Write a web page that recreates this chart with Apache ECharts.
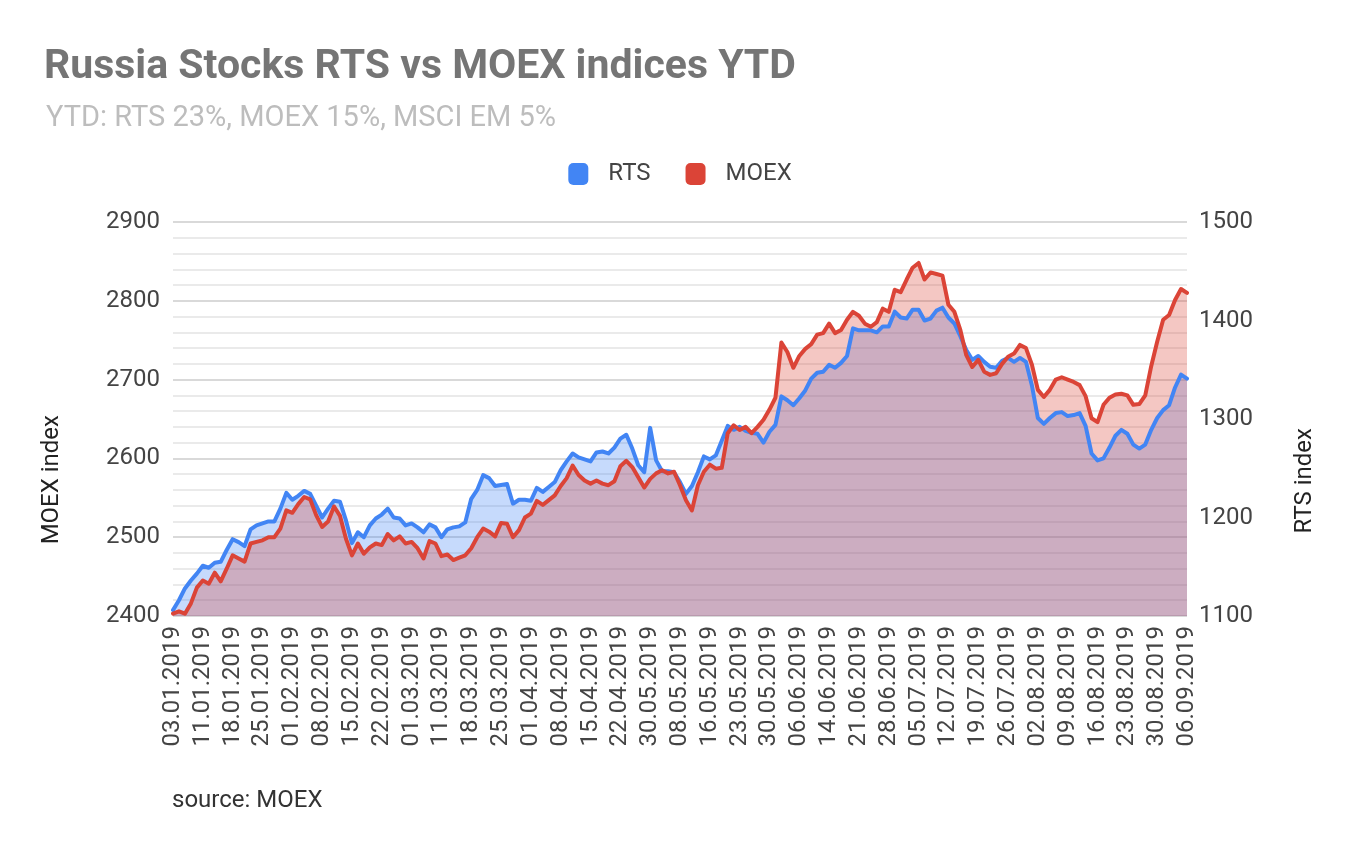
<!DOCTYPE html>
<html>
<head>
<meta charset="utf-8">
<script src="https://cdn.jsdelivr.net/npm/echarts@6/dist/echarts.min.js"></script>
<style>
html,body{margin:0;padding:0;background:#fff;}
#chart{width:1360px;height:859px;}
</style>
</head>
<body>
<div id="chart"></div>
<script>
const titleText = 'Russia Stocks RTS vs MOEX indices YTD';
const subtitleText = 'YTD: RTS 23%, MOEX 15%, MSCI EM 5%';
const sourceText = 'source: MOEX';
const leftAxisName = 'MOEX index';
const rightAxisName = 'RTS index';

const categories = [
'03.01.2019','04.01.2019','08.01.2019','09.01.2019','10.01.2019',
'11.01.2019','14.01.2019','15.01.2019','16.01.2019','17.01.2019',
'18.01.2019','21.01.2019','22.01.2019','23.01.2019','24.01.2019',
'25.01.2019','28.01.2019','29.01.2019','30.01.2019','31.01.2019',
'01.02.2019','04.02.2019','05.02.2019','06.02.2019','07.02.2019',
'08.02.2019','11.02.2019','12.02.2019','13.02.2019','14.02.2019',
'15.02.2019','18.02.2019','19.02.2019','20.02.2019','21.02.2019',
'22.02.2019','25.02.2019','26.02.2019','27.02.2019','28.02.2019',
'01.03.2019','04.03.2019','05.03.2019','06.03.2019','07.03.2019',
'11.03.2019','12.03.2019','13.03.2019','14.03.2019','15.03.2019',
'18.03.2019','19.03.2019','20.03.2019','21.03.2019','22.03.2019',
'25.03.2019','26.03.2019','27.03.2019','28.03.2019','29.03.2019',
'01.04.2019','02.04.2019','03.04.2019','04.04.2019','05.04.2019',
'08.04.2019','09.04.2019','10.04.2019','11.04.2019','12.04.2019',
'15.04.2019','16.04.2019','17.04.2019','18.04.2019','19.04.2019',
'22.04.2019','23.04.2019','24.04.2019','25.04.2019','26.04.2019',
'30.05.2019','02.05.2019','03.05.2019','06.05.2019','07.05.2019',
'08.05.2019','10.05.2019','13.05.2019','14.05.2019','15.05.2019',
'16.05.2019','17.05.2019','20.05.2019','21.05.2019','22.05.2019',
'23.05.2019','24.05.2019','27.05.2019','28.05.2019','29.05.2019',
'30.05.2019','31.05.2019','03.06.2019','04.06.2019','05.06.2019',
'06.06.2019','07.06.2019','10.06.2019','11.06.2019','13.06.2019',
'14.06.2019','17.06.2019','18.06.2019','19.06.2019','20.06.2019',
'21.06.2019','24.06.2019','25.06.2019','26.06.2019','27.06.2019',
'28.06.2019','01.07.2019','02.07.2019','03.07.2019','04.07.2019',
'05.07.2019','08.07.2019','09.07.2019','10.07.2019','11.07.2019',
'12.07.2019','15.07.2019','16.07.2019','17.07.2019','18.07.2019',
'19.07.2019','22.07.2019','23.07.2019','24.07.2019','25.07.2019',
'26.07.2019','29.07.2019','30.07.2019','31.07.2019','01.08.2019',
'02.08.2019','05.08.2019','06.08.2019','07.08.2019','08.08.2019',
'09.08.2019','12.08.2019','13.08.2019','14.08.2019','15.08.2019',
'16.08.2019','19.08.2019','20.08.2019','21.08.2019','22.08.2019',
'23.08.2019','26.08.2019','27.08.2019','28.08.2019','29.08.2019',
'30.08.2019','02.09.2019','03.09.2019','04.09.2019','05.09.2019',
'06.09.2019'
];

// RTS index (right axis)
const rtsValues = [
1106,1116,1128,1136,1143,1151,1149,1154,1155,1167,
1178,1175,1171,1188,1192,1194,1196,1196,1209,1225,
1218,1222,1227,1224,1212,1200,1209,1217,1216,1197,
1174,1185,1180,1192,1199,1203,1209,1200,1199,1192,
1194,1190,1185,1193,1190,1180,1188,1190,1191,1195,
1219,1228,1243,1240,1232,1233,1234,1214,1218,1218,
1217,1230,1226,1231,1236,1248,1257,1265,1261,1259,
1257,1266,1267,1265,1271,1280,1284,1270,1253,1246,
1291,1258,1247,1247,1246,1236,1224,1232,1246,1262,
1259,1263,1278,1293,1289,1292,1288,1286,1285,1276,
1287,1294,1323,1319,1314,1321,1329,1341,1347,1348,
1355,1352,1357,1364,1392,1390,1390,1390,1388,1394,
1394,1409,1403,1402,1411,1411,1400,1402,1410,1413,
1403,1397,1384,1370,1360,1364,1358,1353,1352,1359,
1362,1358,1362,1358,1334,1301,1295,1301,1306,1307,
1303,1304,1306,1293,1265,1258,1260,1271,1283,1289,
1285,1274,1270,1274,1289,1301,1309,1314,1332,1345,
1341
];

// MOEX index (left axis)
const moexValues = [
2403,2406,2403,2416,2436,2445,2441,2455,2444,2460,
2477,2473,2469,2492,2494,2496,2500,2500,2511,2534,
2531,2542,2551,2548,2528,2513,2520,2539,2527,2498,
2477,2492,2479,2487,2492,2490,2504,2496,2501,2492,
2494,2486,2473,2495,2492,2476,2478,2471,2474,2477,
2486,2500,2511,2507,2501,2518,2517,2500,2509,2525,
2530,2546,2541,2547,2553,2565,2575,2591,2579,2572,
2568,2572,2568,2566,2571,2590,2597,2589,2576,2563,
2574,2581,2585,2581,2583,2566,2547,2534,2566,2583,
2592,2587,2588,2632,2642,2636,2640,2632,2640,2649,
2662,2677,2747,2735,2715,2730,2739,2745,2757,2759,
2771,2759,2763,2776,2786,2781,2771,2767,2773,2790,
2786,2814,2811,2827,2842,2848,2827,2836,2834,2832,
2795,2786,2763,2731,2716,2725,2710,2706,2708,2720,
2729,2733,2744,2740,2719,2687,2678,2687,2700,2703,
2700,2697,2693,2679,2651,2646,2668,2677,2681,2682,
2680,2668,2669,2680,2717,2748,2776,2782,2801,2815,
2810
];

const moexTicks = {min: 2400, max: 2900, step: 100};
const rtsTicks = {min: 1100, max: 1500, step: 100};

const RTS_COLOR = '#4285f4';
const MOEX_COLOR = '#db4437';
const FONT = 'Roboto, "Noto Sans", Arial, sans-serif';
const chart = echarts.init(document.getElementById('chart'), null, {renderer: 'canvas'});
const plain = function (v) { return String(v); };

function areaSeries(name, axis, data, color) {
  return {
    name: name, type: 'line', yAxisIndex: axis, data: data,
    symbol: 'none', showSymbol: false, silent: true,
    lineStyle: {width: 0, color: color},
    itemStyle: {color: color},
    areaStyle: {color: color, opacity: 0.3, origin: 'start'},
    z: 2
  };
}
function lineSeries(name, axis, data, color, z) {
  return {
    name: name, type: 'line', yAxisIndex: axis, data: data,
    symbol: 'none', showSymbol: false,
    lineStyle: {color: color, width: 4, join: 'round', cap: 'round'},
    itemStyle: {color: color},
    z: z
  };
}

const option = {
  animation: false,
  backgroundColor: '#ffffff',
  textStyle: {fontFamily: FONT},
  title: [
    {text: titleText, left: 39, top: 42,
     textStyle: {fontFamily: FONT, fontWeight: 'bold', fontSize: 41, color: '#757575'}},
    {text: subtitleText, left: 41, top: 99,
     textStyle: {fontFamily: FONT, fontWeight: 'normal', fontSize: 29, color: '#bdbdbd'}}
  ],
  legend: {
    top: 157, left: 'center',
    itemWidth: 20, itemHeight: 22, itemGap: 35,
    icon: 'roundRect',
    textStyle: {fontFamily: FONT, fontSize: 24, color: '#444444', padding: [0, 0, 0, 15]},
    data: ['RTS', 'MOEX']
  },
  grid: {left: 173, right: 173, top: 222, bottom: 243, containLabel: false},
  xAxis: {
    type: 'category', data: categories, boundaryGap: false,
    axisLine: {show: false}, axisTick: {show: false},
    axisLabel: {rotate: 90, interval: 4, fontSize: 24, color: '#444444', margin: 10, fontFamily: FONT},
    splitLine: {show: false}
  },
  yAxis: [
    {
      type: 'value', position: 'left', min: moexTicks.min, max: moexTicks.max, interval: moexTicks.step,
      axisLine: {show: false}, axisTick: {show: false},
      axisLabel: {fontSize: 24, color: '#444444', margin: 13, fontFamily: FONT, formatter: plain},
      splitLine: {show: true, lineStyle: {color: '#cccccc', width: 1.5}},
      minorTick: {show: false, splitNumber: 5},
      minorSplitLine: {show: true, lineStyle: {color: '#e4e4e4', width: 1.5}}
    },
    {
      type: 'value', position: 'right', min: rtsTicks.min, max: rtsTicks.max, interval: rtsTicks.step,
      axisLine: {show: false}, axisTick: {show: false},
      axisLabel: {fontSize: 24, color: '#444444', margin: 12, fontFamily: FONT, formatter: plain},
      splitLine: {show: false}
    }
  ],
  series: [
    areaSeries('RTS', 1, rtsValues, RTS_COLOR),
    areaSeries('MOEX', 0, moexValues, MOEX_COLOR),
    lineSeries('RTS', 1, rtsValues, RTS_COLOR, 4),
    lineSeries('MOEX', 0, moexValues, MOEX_COLOR, 5)
  ],
  graphic: [
    {type: 'text', left: 40, top: 415, rotation: Math.PI / 2,
     style: {text: leftAxisName, font: '24px ' + FONT, fill: '#222222'}},
    {type: 'text', left: 1293, top: 428, rotation: Math.PI / 2,
     style: {text: rightAxisName, font: '24px ' + FONT, fill: '#222222'}},
    {type: 'text', left: 172, top: 789,
     style: {text: sourceText, font: '24px ' + FONT, fill: '#333333'}}
  ]
};
chart.setOption(option);
</script>
</body>
</html>
